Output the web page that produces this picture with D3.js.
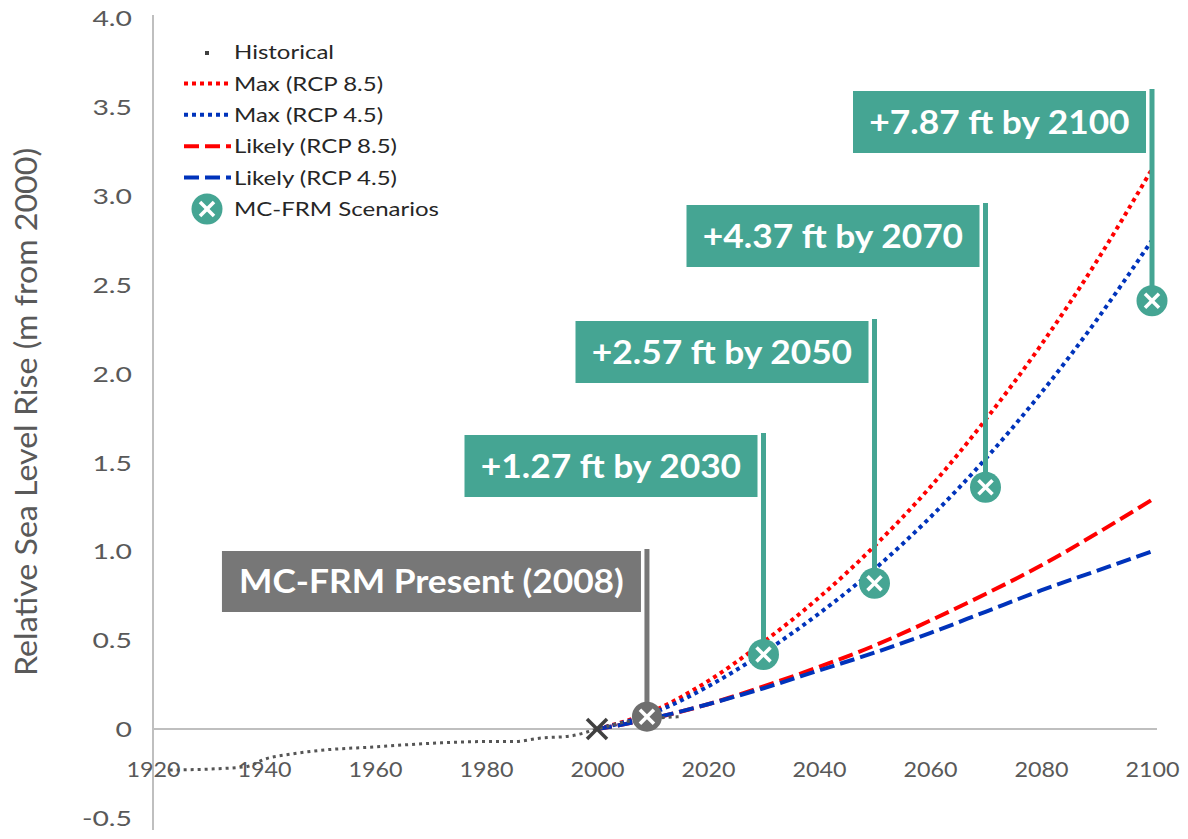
<!DOCTYPE html>
<html>
<head>
<meta charset="utf-8">
<script src="https://cdn.jsdelivr.net/npm/d3@7"></script>
<style>
  body { margin: 0; background: #fff; }
  text { font-family: Lato, 'Open Sans', sans-serif; }
</style>
</head>
<body>
<script>
// projections, every 10 years from 2000
const years = [2000, 2010, 2020, 2030, 2040, 2050, 2060, 2070, 2080, 2090, 2100];
const maxRcp85 = [0, 0.10, 0.27, 0.49, 0.74, 1.03, 1.36, 1.74, 2.16, 2.63, 3.15];
const maxRcp45 = [0, 0.09, 0.24, 0.43, 0.65, 0.90, 1.19, 1.52, 1.89, 2.30, 2.75];
const likelyRcp85 = [0, 0.06, 0.14, 0.24, 0.35, 0.47, 0.61, 0.76, 0.92, 1.10, 1.29];
const likelyRcp45 = [0, 0.06, 0.14, 0.23, 0.33, 0.43, 0.54, 0.66, 0.78, 0.89, 1.00];

// observed record
const histYears = [1923, 1930, 1937, 1940, 1945, 1950, 1960, 1970, 1980, 1985, 1990, 1995, 2000, 2005, 2010, 2015];
const histValues = [-0.23, -0.225, -0.21, -0.17, -0.14, -0.12, -0.10, -0.08, -0.07, -0.07, -0.05, -0.04, 0, 0.04, 0.06, 0.07];

// MC-FRM scenarios
const scenarioYears = [2030, 2050, 2070, 2100];
const scenarioValues = [0.42, 0.82, 1.36, 2.41];
const scenarioLabels = ['+1.27 ft by 2030', '+2.57 ft by 2050', '+4.37 ft by 2070', '+7.87 ft by 2100'];
const presentYear = 2009;
const presentValue = 0.07;
const presentLabel = 'MC-FRM Present (2008)';

const yTicks = [-0.5, 0, 0.5, 1.0, 1.5, 2.0, 2.5, 3.0, 3.5, 4.0];
const xTicks = [1920, 1940, 1960, 1980, 2000, 2020, 2040, 2060, 2080, 2100];

const WIDTH = 1188;
const HEIGHT = 839;
const RED = '#ff0000';
const BLUE = '#0033bb';
const TEAL = '#45a593';
const GRAY = '#777777';
const AXIS = '#bfbfbf';
const TXT = '#595959';

// top edge of each label box (px), same order as scenarioYears
const boxTops = [435, 321, 205, 91];
const BOX_W = 293;
const BOX_H = 62;

const svg = d3.select('body').append('svg')
  .attr('width', WIDTH)
  .attr('height', HEIGHT);

const x = d3.scaleLinear().domain([1920, 2100]).range([153, 1152]);
const y = d3.scaleLinear().domain([-0.5, 4]).range([818, 18]);

function stretch(sel, k) {
  sel.each(function () {
    const w = this.getComputedTextLength();
    d3.select(this).attr('textLength', w * k).attr('lengthAdjust', 'spacingAndGlyphs');
  });
}

// axes lines
svg.append('line')
  .attr('x1', 153).attr('x2', 153).attr('y1', 15).attr('y2', 830)
  .attr('stroke', AXIS).attr('stroke-width', 2);
svg.append('line')
  .attr('x1', 153).attr('x2', 1157).attr('y1', y(0)).attr('y2', y(0))
  .attr('stroke', AXIS).attr('stroke-width', 2);

const yAxis = svg.append('g')
  .attr('transform', 'translate(132,0)')
  .call(d3.axisLeft(y).tickValues(yTicks).tickSize(0).tickPadding(0)
    .tickFormat(d => d === 0 ? '0' : d.toFixed(1)));
yAxis.select('.domain').remove();
yAxis.selectAll('text')
  .attr('font-family', 'Lato, sans-serif')
  .attr('font-size', 21)
  .attr('fill', TXT)
  .attr('dy', '0.36em');
stretch(yAxis.selectAll('text'), 1.35);

const xAxis = svg.append('g')
  .attr('transform', `translate(0,${y(0)})`)
  .call(d3.axisBottom(x).tickValues(xTicks).tickSize(0).tickPadding(40).tickFormat(d3.format('d')));
xAxis.select('.domain').remove();
xAxis.selectAll('text')
  .attr('font-family', 'Lato, sans-serif')
  .attr('font-size', 22)
  .attr('fill', TXT)
  .attr('dy', '0.36em');
stretch(xAxis.selectAll('text'), 1.06);

svg.append('text')
  .attr('transform', 'translate(37,412) rotate(-90)')
  .attr('text-anchor', 'middle')
  .attr('font-size', 31)
  .attr('font-weight', 400)
  .attr('fill', TXT)
  .attr('textLength', 528)
  .attr('lengthAdjust', 'spacingAndGlyphs')
  .text('Relative Sea Level Rise (m from 2000)');

// curves
const line = d3.line()
  .x(d => x(d[0]))
  .y(d => y(d[1]))
  .curve(d3.curveMonotoneX);

const series = [
  { values: likelyRcp85, color: RED, dash: '15,6' },
  { values: likelyRcp45, color: BLUE, dash: '15,6' },
  { values: maxRcp85, color: RED, dash: '4,4' },
  { values: maxRcp45, color: BLUE, dash: '4,4' },
];

svg.append('g').selectAll('path')
  .data(series)
  .enter()
  .append('path')
  .attr('d', s => line(years.map((yr, i) => [yr, s.values[i]])))
  .attr('fill', 'none')
  .attr('stroke', s => s.color)
  .attr('stroke-width', 4)
  .attr('stroke-dasharray', s => s.dash);

svg.append('path')
  .attr('d', line(histYears.map((yr, i) => [yr, histValues[i]])))
  .attr('fill', 'none')
  .attr('stroke', '#555')
  .attr('stroke-width', 3)
  .attr('stroke-dasharray', '3,4');

// X at 2000
const cross = svg.append('g')
  .attr('transform', `translate(${x(2000)},${y(0)})`)
  .attr('stroke', '#404040')
  .attr('stroke-width', 3.5);
cross.append('line').attr('x1', -10).attr('y1', -10).attr('x2', 10).attr('y2', 10);
cross.append('line').attr('x1', -10).attr('y1', 10).attr('x2', 10).attr('y2', -10);

function marker(g, cx, cy, fill, r) {
  const m = g.append('g').attr('transform', `translate(${cx},${cy})`);
  m.append('circle').attr('r', r).attr('fill', fill);
  m.append('line').attr('x1', -7).attr('y1', -7).attr('x2', 7).attr('y2', 7)
    .attr('stroke', '#fff').attr('stroke-width', 3.5);
  m.append('line').attr('x1', -7).attr('y1', 7).attr('x2', 7).attr('y2', -7)
    .attr('stroke', '#fff').attr('stroke-width', 3.5);
}

// present annotation
const px = x(presentYear);
svg.append('line')
  .attr('x1', px).attr('x2', px).attr('y1', 549).attr('y2', y(presentValue))
  .attr('stroke', GRAY).attr('stroke-width', 5);
svg.append('rect')
  .attr('x', px - 6 - 419).attr('y', 551).attr('width', 419).attr('height', 61)
  .attr('fill', GRAY);
const pt = svg.append('text')
  .attr('x', px - 6 - 419 / 2).attr('y', 551 + 61 / 2)
  .attr('dy', '0.36em')
  .attr('text-anchor', 'middle')
  .attr('font-family', "'Open Sans', sans-serif")
  .attr('font-weight', 700)
  .attr('font-size', 33)
  .attr('fill', '#fff')
  .text(presentLabel);
stretch(pt, 1.07);
marker(svg, px, y(presentValue), '#6e6e6e', 15);

// scenario annotations
const ann = svg.append('g').selectAll('g')
  .data(scenarioYears)
  .enter()
  .append('g');

ann.append('line')
  .attr('x1', d => x(d)).attr('x2', d => x(d))
  .attr('y1', (d, i) => boxTops[i] - 2)
  .attr('y2', (d, i) => y(scenarioValues[i]))
  .attr('stroke', TEAL).attr('stroke-width', 5);

ann.append('rect')
  .attr('x', d => x(d) - 6 - BOX_W)
  .attr('y', (d, i) => boxTops[i])
  .attr('width', BOX_W)
  .attr('height', BOX_H)
  .attr('fill', TEAL);

const annText = ann.append('text')
  .attr('x', d => x(d) - 6 - BOX_W / 2)
  .attr('y', (d, i) => boxTops[i] + BOX_H / 2)
  .attr('dy', '0.36em')
  .attr('text-anchor', 'middle')
  .attr('font-family', "'Open Sans', sans-serif")
  .attr('font-weight', 700)
  .attr('font-size', 33)
  .attr('fill', '#fff')
  .text((d, i) => scenarioLabels[i]);
stretch(annText, 1.07);

ann.each(function (d, i) {
  marker(d3.select(this), x(d), y(scenarioValues[i]), TEAL, 15.5);
});

// legend
const legendItems = [
  { name: 'Historical', type: 'square' },
  { name: 'Max (RCP 8.5)', type: 'line', color: RED, dash: '4,4' },
  { name: 'Max (RCP 4.5)', type: 'line', color: BLUE, dash: '4,4' },
  { name: 'Likely (RCP 8.5)', type: 'line', color: RED, dash: '15,6' },
  { name: 'Likely (RCP 4.5)', type: 'line', color: BLUE, dash: '15,6' },
  { name: 'MC-FRM Scenarios', type: 'marker' },
];

const legend = svg.append('g').selectAll('g')
  .data(legendItems)
  .enter()
  .append('g')
  .attr('transform', (d, i) => `translate(0,${52 + i * 31.4})`);

legend.each(function (d) {
  const g = d3.select(this);
  if (d.type === 'square') {
    g.append('rect').attr('x', 205).attr('y', -1).attr('width', 4).attr('height', 4).attr('fill', '#404040');
  } else if (d.type === 'line') {
    g.append('line').attr('x1', 184).attr('x2', 231).attr('y1', 0).attr('y2', 0)
      .attr('stroke', d.color).attr('stroke-width', 4).attr('stroke-dasharray', d.dash);
  } else {
    marker(g, 207, 0, TEAL, 15.5);
  }
});

const legendText = legend.append('text')
  .attr('x', 234)
  .attr('dy', '0.36em')
  .attr('font-size', 20)
  .attr('fill', '#262626')
  .text(d => d.name);
stretch(legendText, 1.2);
</script>
</body>
</html>
